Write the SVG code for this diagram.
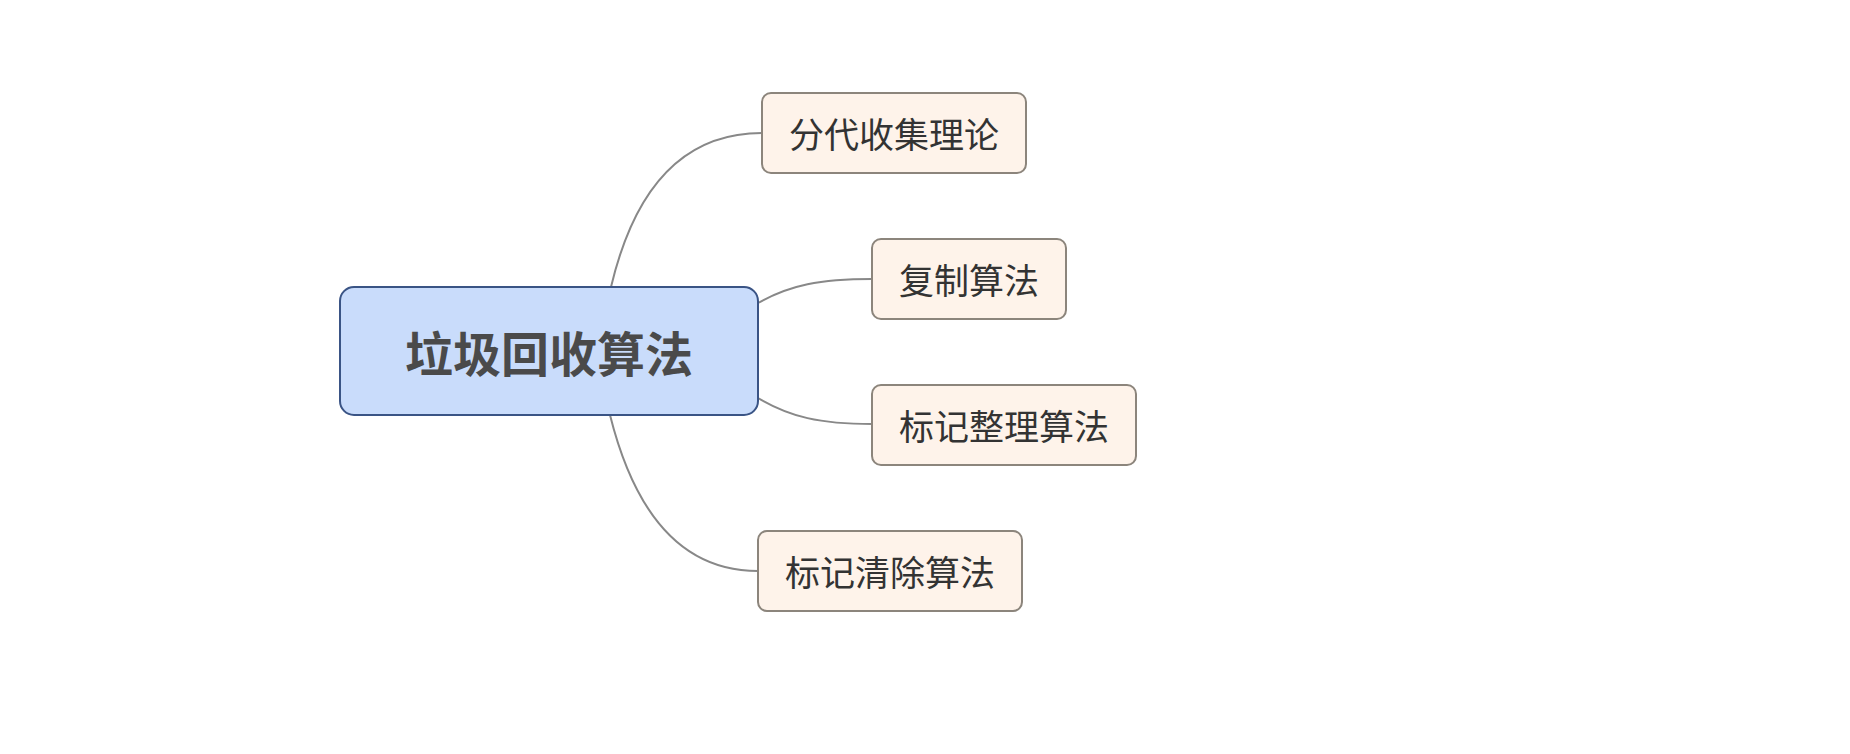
<svg xmlns="http://www.w3.org/2000/svg" width="1850" height="754" viewBox="0 0 1850 754">
<style>
.root rect{fill:#c9dcfb;stroke:#3a5485;stroke-width:2}
.root text{font-family:"Noto Sans CJK SC","Noto Sans",sans-serif;font-size:48px;font-weight:bold;fill:#4a4a4a;text-anchor:middle;dominant-baseline:central}
.child rect{fill:#fef3ea;stroke:#8c857c;stroke-width:2}
.child text{font-family:"Noto Sans CJK SC","Noto Sans",sans-serif;font-size:35px;fill:#333333;text-anchor:middle;dominant-baseline:central}
.conn path{fill:none;stroke:#888888;stroke-width:2}
</style>
<rect width="1850" height="754" fill="#ffffff"/>
<g id="connectors" class="conn">
<path d="M611,287 C630,207 670,133 762,133"/>
<path d="M758,303 C790,285 820,279 872,279"/>
<path d="M758,398 C790,417 820,424 872,424"/>
<path d="M610,415 C630,495 670,571 758,571"/>
</g>
<g id="root" class="root">
<rect x="340" y="287" width="418" height="128" rx="14"/>
<text x="549" y="351">垃圾回收算法</text>
</g>
<g id="node1" class="child">
<rect x="762" y="93" width="264" height="80" rx="9"/>
<text x="894" y="132">分代收集理论</text>
</g>
<g id="node2" class="child">
<rect x="872" y="239" width="194" height="80" rx="9"/>
<text x="969" y="278">复制算法</text>
</g>
<g id="node3" class="child">
<rect x="872" y="385" width="264" height="80" rx="9"/>
<text x="1004" y="424">标记整理算法</text>
</g>
<g id="node4" class="child">
<rect x="758" y="531" width="264" height="80" rx="9"/>
<text x="890" y="570">标记清除算法</text>
</g>
</svg>
